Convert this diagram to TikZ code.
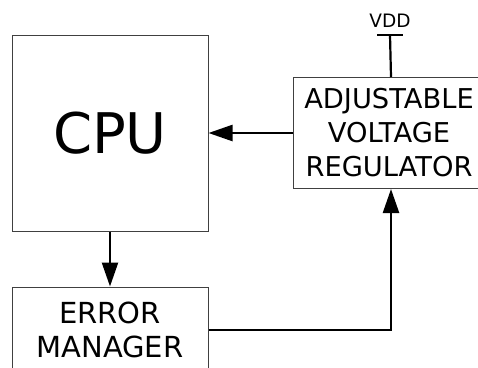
\documentclass[tikz,border=0pt]{standalone}
\usepackage{fontspec}
\setmainfont{DejaVu Sans}
\usetikzlibrary{arrows.meta, positioning}

\begin{document}
\begin{tikzpicture}[
  x=1pt, y=1pt,
  node distance = 55pt and 84pt,
  block/.style = {
    rectangle, draw=black!75, line width=1pt, fill=white,
    inner sep=0pt, minimum width=196pt, text width=196pt, align=center
  },
  bigblock/.style = {
    block, minimum height=196pt,
    font=\fontsize{56}{67}\selectfont
  },
  textblock/.style = {
    block, font=\fontsize{29}{34.5}\selectfont
  },
  arrow/.style = {
    -{Triangle[length=24pt, width=16pt]}, line width=2.4pt
  },
  wire/.style = {
    line width=2.2pt
  }
]

% ====== PAGE ======
\clip (0,0) rectangle (478,-367);

% ====== BLOCKS ======
\node[bigblock] (cpu) at (110,-133) {CPU};

\node[textblock, minimum height=111pt, right=of cpu,
      font=\fontsize{27.3}{34}\selectfont] (reg) {
  \hspace*{-4pt}ADJUSTABLE\\
  \hspace*{-4pt}VOLTAGE\\
  \hspace*{-4pt}REGULATOR
};

\node[textblock, minimum height=86pt, below=of cpu] (err) {
  ERROR\\
  MANAGER
};

% ====== SUPPLY ======
\node[font=\fontsize{18.5}{22}\selectfont, inner sep=0pt,
      anchor=base] (vdd) at (390,-27) {VDD};
\coordinate[below=8pt of vdd.base] (vddbar);

% ====== ARROWS ======
\draw[arrow] (reg) -- (cpu);
\draw[arrow] (cpu) -- (err);
\draw[arrow] (err.east) -| (reg.south);

% supply rail
\draw[wire] (reg.north) -- (vddbar);
\draw[wire] ([xshift=-13pt]vddbar) -- ([xshift=13pt]vddbar);

\end{tikzpicture}
\end{document}
